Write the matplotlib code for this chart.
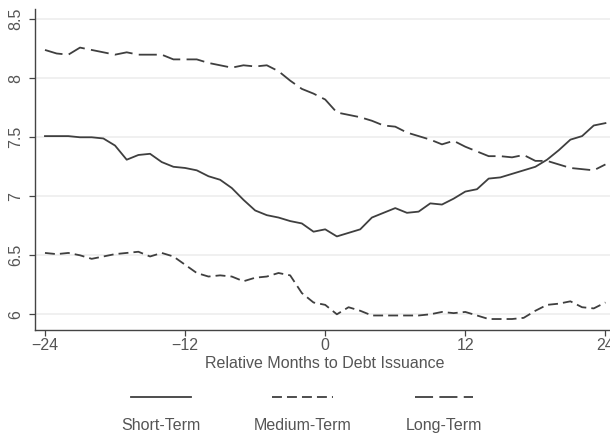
import matplotlib.pyplot as plt
from matplotlib.lines import Line2D

# monthly averages around the issuance date
months = list(range(-24, 25))

short_term = [7.51, 7.51, 7.51, 7.50, 7.50, 7.49, 7.43, 7.31, 7.35, 7.36,
              7.29, 7.25, 7.24, 7.22, 7.17, 7.14, 7.07, 6.97, 6.88, 6.84,
              6.82, 6.79, 6.77, 6.70, 6.72, 6.66, 6.69, 6.72, 6.82, 6.86,
              6.90, 6.86, 6.87, 6.94, 6.93, 6.98, 7.04, 7.06, 7.15, 7.16,
              7.19, 7.22, 7.25, 7.31, 7.39, 7.48, 7.51, 7.60, 7.62]

medium_term = [6.52, 6.51, 6.52, 6.50, 6.47, 6.49, 6.51, 6.52, 6.53, 6.49,
               6.52, 6.49, 6.42, 6.35, 6.32, 6.33, 6.32, 6.28, 6.31, 6.32,
               6.35, 6.33, 6.18, 6.10, 6.08, 6.00, 6.06, 6.03, 5.99, 5.99,
               5.99, 5.99, 5.99, 6.00, 6.02, 6.01, 6.02, 5.99, 5.96, 5.96,
               5.96, 5.97, 6.03, 6.08, 6.09, 6.11, 6.06, 6.05, 6.10]

long_term = [8.24, 8.21, 8.20, 8.26, 8.24, 8.22, 8.20, 8.22, 8.20, 8.20,
             8.20, 8.16, 8.16, 8.16, 8.13, 8.11, 8.09, 8.11, 8.10, 8.11,
             8.06, 7.98, 7.91, 7.87, 7.82, 7.71, 7.69, 7.67, 7.64, 7.60,
             7.59, 7.54, 7.51, 7.48, 7.44, 7.47, 7.42, 7.38, 7.34, 7.34,
             7.33, 7.35, 7.30, 7.30, 7.27, 7.24, 7.23, 7.22, 7.27]

series_names = ["Short-Term", "Medium-Term", "Long-Term"]
x_ticks = [-24, -12, 0, 12, 24]
y_ticks = [6, 6.5, 7, 7.5, 8, 8.5]
y_tick_labels = ["6", "6.5", "7", "7.5", "8", "8.5"]

plt.rcParams['font.family'] = ['Liberation Sans', 'DejaVu Sans']

W, H = 610, 436
fs = 11.5
fig = plt.figure(figsize=(W / 100, H / 100), dpi=100)
ax = fig.add_axes([34.7 / W, 1 - 330 / H, 581 / W, 321 / H])

line_color = "#3f3f3f"
text_color = "#555555"
lw = 1.3
styles = [
    dict(linestyle="-"),
    dict(linestyle=(0, (5.5, 2.8))),
    dict(linestyle=(0, (10.0, 3.5))),
]

for values, st in zip([short_term, medium_term, long_term], styles):
    ax.plot(months, values, color=line_color, lw=lw, **st)

ax.set_xlim(-24.88, 24.88)
ax.set_ylim(5.867, 8.587)
ax.set_xticks(x_ticks)
ax.set_yticks(y_ticks)
ax.set_yticklabels(y_tick_labels, rotation=90, va="center")
ax.grid(axis="y", color="#eeeeee", lw=1.2)
ax.set_axisbelow(True)

for side in ["top", "right"]:
    ax.spines[side].set_visible(False)
for side in ["left", "bottom"]:
    ax.spines[side].set_color("#444444")
    ax.spines[side].set_linewidth(1.0)

ax.tick_params(axis="both", direction="out", length=4, width=0.9,
               color="#444444", labelcolor=text_color, labelsize=fs)
ax.tick_params(axis="y", pad=4)
ax.tick_params(axis="x", pad=2)

ax.set_xlabel("Relative Months to Debt Issuance", fontsize=fs,
              color=text_color, labelpad=2)

# legend: key above each label, three columns
key_spans = [(130.7, 190.7), (271.7, 333.0), (415.0, 473.3)]
key_y = 1 - 397 / H
text_y = 1 - 425 / H
for name, (x0, x1), st in zip(series_names, key_spans, styles):
    fig.add_artist(Line2D([x0 / W, x1 / W], [key_y, key_y],
                          transform=fig.transFigure, color=line_color,
                          lw=lw, **st))
    fig.text((x0 + x1) / 2 / W, text_y, name, ha="center", va="center",
             fontsize=fs, color=text_color)

fig.savefig("out.png", dpi=100)
